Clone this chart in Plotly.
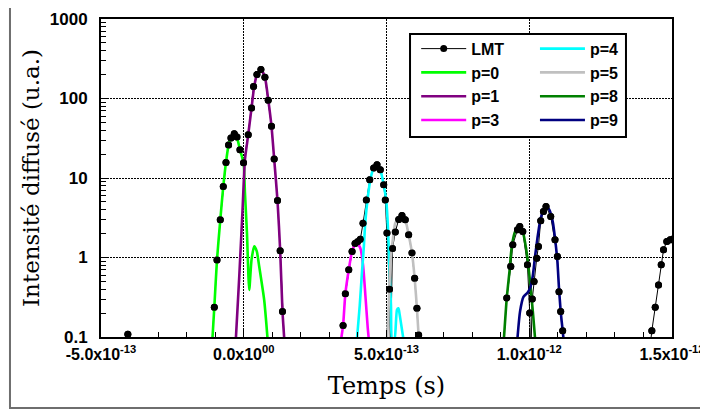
import plotly.graph_objects as go

FS = 1e-15  # data times are stored in femtoseconds

# ---- LMT (total) ----
lmt_t = [-421, -406, -393,
         -113.6, -103.1, -93.7, -82.2, -71.7, -62.2, -53.1, -44.8, -33.2, -23.8, -13.3, -0.7,
         15.7, 27.3, 34.3, 46.2, 60.1, 74.1, 85.7, 97.2, 106.6, 118.2, 127.6, 135.7, 145.1,
         337.4, 347.9, 355.9, 367.8, 379.4, 389.9, 398.6, 408.4, 417.8, 429.4, 441.3, 455.2,
         466.8, 478.3, 490.2, 495.8, 501.7, 510.5, 514.0, 521.0, 530.8, 542.7, 554.2, 565.7,
         577.6, 589.2, 598.6, 606.6, 612.6, 618.9,
         907.3, 921.3, 935.3, 942.3, 958.7, 966.8, 977.3, 993.7, 1001.7, 1005.2, 1010.5,
         1016.8, 1026.2, 1032.2, 1040.2, 1049.7, 1058.7, 1075.2, 1090.2, 1098.6, 1104.2,
         1110.1, 1117.1, 1124.1,
         1417.8, 1429.4, 1441.3, 1452.8, 1462.2, 1470.3, 1481.8, 1493.7, 1505.2]
lmt_I = [0.05, 0.108, 0.05,
         0.06, 0.237, 0.93, 2.98, 7.84, 15.7, 26.1, 31.9, 36.1, 32.9, 22.7, 15.5,
         35.1, 76.1, 142, 200, 231, 185, 94.9, 44.7, 17.3, 5.2, 1.22, 0.21, 0.05,
         0.07, 0.14, 0.35, 0.70, 1.19, 1.50, 1.58, 1.7, 2.7, 5.3, 9.5, 13.4,
         14.7, 12.7, 8.2, 5.3, 2.03, 0.4, 0.06, 1.3, 2.1, 3.0, 3.38, 2.98,
         1.93, 1.14, 0.55, 0.23, 0.106, 0.05,
         0.06, 0.31, 0.77, 1.45, 2.23, 2.46, 2.12, 0.81, 0.2, 0.05, 0.3,
         0.50, 0.98, 1.38, 2.9, 3.80, 4.38, 3.28, 1.67, 1.03, 0.37,
         0.21, 0.12, 0.05,
         0.05, 0.12, 0.237, 0.45, 0.81, 1.25, 1.59, 1.67, 1.72]

# ---- individual orders p ----
p0_t = [-110.1, -103.1, -93.7, -82.2, -71.7, -62.2, -53.1, -44.8, -35.7, -23.8, -13.3, -0.7,
        4.2, 11.2, 19.2, 27.3, 36.7, 45.5, 54.2, 71.7, 83.9]
p0_I = [0.09, 0.237, 0.935, 2.98, 7.84, 15.7, 26.1, 31.9, 35.5, 31.9, 22.7, 15.5,
        6.5, 2.05, 0.39, 0.94, 1.38, 1.2, 0.77, 0.29, 0.09]

p1_t = [-28.0, -15.7, -4.2, 4.2, 15.7, 27.3, 36.7, 46.2, 60.1, 74.1, 85.7, 97.2, 106.6,
        118.2, 127.6, 135.7, 142.3]
p1_I = [0.09, 0.58, 3.99, 17.0, 35.1, 76.1, 142, 200, 231, 185, 96.8, 44.7, 17.3,
        5.2, 1.22, 0.21, 0.09]

p3_t = [340.2, 347.9, 355.9, 367.8, 379.4, 394.4, 408.4, 417.8, 425.9, 434.3, 438.5]
p3_I = [0.09, 0.14, 0.35, 0.70, 1.19, 1.56, 1.31, 0.81, 0.34, 0.13, 0.09]

p4_t = [396.1, 406.3, 414.3, 420.3, 425.9, 434.3, 443.4, 455.2, 466.8, 478.3, 490.2, 499.3,
        505.2, 509.8, 515.7, 519.9, 527.3, 536.7, 541.9, 546.2, 560.1]
p4_I = [0.09, 0.25, 0.67, 1.31, 2.84, 5.6, 9.5, 13.4, 14.7, 12.7, 8.2, 5.1,
        2.35, 0.81, 0.25, 0.09, 0.09, 0.22, 0.23, 0.19, 0.09]

p5_t = [501.7, 507.7, 513.3, 522.7, 530.8, 542.7, 554.2, 565.7, 577.6, 589.2, 598.6, 606.6, 613.6]
p5_I = [0.09, 0.25, 0.81, 1.75, 2.71, 3.13, 3.38, 2.98, 1.93, 1.14, 0.55, 0.23, 0.09]

p8_t = [910.8, 921.3, 930.8, 938.8, 950.4, 965.7, 977.3, 988.8, 997.2, 1006.3, 1014.7, 1021.0]
p8_I = [0.09, 0.31, 0.67, 1.38, 2.12, 2.46, 2.12, 1.31, 0.77, 0.37, 0.17, 0.09]

p9_t = [958.0, 967.8, 979.7, 993.7, 1002.8, 1012.2, 1020.3, 1028.7, 1037.8, 1049.7, 1058.7,
        1070.6, 1082.2, 1090.2, 1098.6, 1104.2, 1110.1, 1117.1, 1120.6]
p9_I = [0.09, 0.21, 0.32, 0.36, 0.41, 0.58, 1.03, 1.75, 2.84, 3.98, 4.38,
        3.98, 2.84, 1.75, 0.89, 0.41, 0.21, 0.12, 0.09]

# ---- axis ticks ----
x_tickvals = [-5e-13, 0.0, 5e-13, 1e-12, 1.5e-12]
x_ticktext = ["-5.0x10<sup>-13</sup>", "0.0x10<sup>00</sup>", "5.0x10<sup>-13</sup>",
              "1.0x10<sup>-12</sup>", "1.5x10<sup>-12</sup>"]
y_tickvals = [0.1, 1, 10, 100, 1000]
y_ticktext = ["0.1", "1", "10", "100", "1000"]
y_minor = [m * 10 ** k for k in (-1, 0, 1, 2) for m in range(2, 10)]

def sec(ts):
    return [t * FS for t in ts]

fig = go.Figure()

# LMT line (underneath) with legend entry
fig.add_trace(go.Scatter(x=sec(lmt_t), y=lmt_I, mode="lines+markers", name="LMT",
                         line=dict(color="black", width=1),
                         marker=dict(color="black", size=7),
                         legend="legend", legendrank=1))

series = [
    ("p=0", p0_t, p0_I, "#00ff00", "legend", 2),
    ("p=1", p1_t, p1_I, "#800080", "legend", 3),
    ("p=3", p3_t, p3_I, "#ff00ff", "legend", 4),
    ("p=4", p4_t, p4_I, "#00ffff", "legend2", 1),
    ("p=5", p5_t, p5_I, "#c0c0c0", "legend2", 2),
    ("p=8", p8_t, p8_I, "#008000", "legend2", 3),
    ("p=9", p9_t, p9_I, "#000080", "legend2", 4),
]
for name, t, I, col, lg, rk in series:
    fig.add_trace(go.Scatter(x=sec(t), y=I, mode="lines", name=name,
                             line=dict(color=col, width=2.6, shape="spline", smoothing=0.6),
                             legend=lg, legendrank=rk))

# LMT dots on top
fig.add_trace(go.Scatter(x=sec(lmt_t), y=lmt_I, mode="markers", showlegend=False,
                         marker=dict(color="black", size=7), hoverinfo="skip"))

tickfont = dict(family="Liberation Sans", size=16, color="black", weight="bold")
legfont = dict(family="Liberation Sans", size=16, color="black", weight="bold")
griddash = "1.5px,1.5px"

# page body has an 8px default margin: the figure is offset accordingly
fig.update_layout(
    width=700, height=402,
    margin=dict(l=93, r=36, t=11, b=73),
    paper_bgcolor="white", plot_bgcolor="white",
    showlegend=True,
    xaxis=dict(range=[-5e-13, 1.5e-12], tickmode="array", tickvals=x_tickvals,
               ticktext=x_ticktext, tickfont=tickfont, ticks="inside", ticklen=7,
               tickwidth=1, tickcolor="black", automargin=False,
               showline=True, linewidth=2, linecolor="black", mirror=True,
               showgrid=True, gridcolor="black", griddash=griddash, gridwidth=1,
               zeroline=False, ticklabelstandoff=2,
               minor=dict(dtick=1e-13, tick0=0, ticks="inside", ticklen=5,
                          tickcolor="black", showgrid=False),
               title=dict(text="Temps (s)",
                          font=dict(family="DejaVu Serif", size=24, color="black"),
                          standoff=15)),
    yaxis=dict(type="log", range=[-1, 3], tickmode="array", tickvals=y_tickvals,
               ticktext=y_ticktext, tickfont=dict(family="Liberation Sans", size=17,
                                                  color="black", weight="bold"),
               ticks="inside", ticklen=7, tickwidth=1, tickcolor="black", automargin=False,
               showline=True, linewidth=2, linecolor="black", mirror=True,
               showgrid=True, gridcolor="black", griddash=griddash, gridwidth=1,
               zeroline=False, ticklabelstandoff=8,
               minor=dict(tickmode="array", tickvals=y_minor, ticks="inside", ticklen=5,
                          tickcolor="black", showgrid=False),
               title=dict(text="Intensité diffusé (u.a.)",
                          font=dict(family="DejaVu Serif", size=23, color="black"),
                          standoff=4)),
    legend=dict(x=0.552, y=0.96, xanchor="left", yanchor="top",
                bgcolor="rgba(0,0,0,0)", borderwidth=0, itemwidth=45,
                font=legfont, tracegroupgap=0),
    legend2=dict(x=0.760, y=0.96, xanchor="left", yanchor="top",
                 bgcolor="rgba(0,0,0,0)", borderwidth=0, itemwidth=45,
                 font=legfont, tracegroupgap=0),
    shapes=[
        dict(type="rect", xref="paper", yref="paper", x0=0.5412, x1=0.9194,
             y0=0.629, y1=0.9528, fillcolor="white", line=dict(color="black", width=2),
             layer="above"),
        dict(type="rect", xref="paper", yref="paper", x0=-0.1594, x1=1.10,
             y0=-0.2233, y1=1.0566, fillcolor="rgba(0,0,0,0)",
             line=dict(color="#6e6e6e", width=2), layer="above"),
    ],
)

fig.write_html("out.html")
